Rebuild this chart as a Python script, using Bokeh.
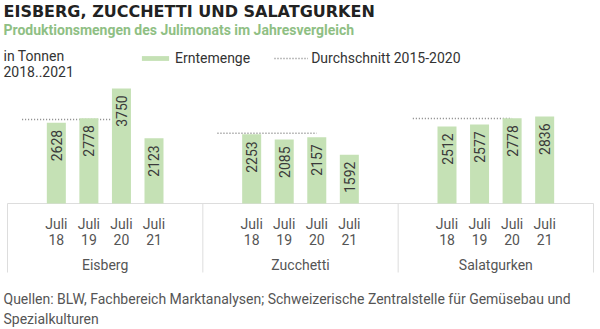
from math import pi
from bokeh.plotting import figure
from bokeh.models import Range1d, Label, Legend, LegendItem, ColumnDataSource
from bokeh.core.properties import value
from bokeh.embed import file_html
from bokeh.resources import INLINE

# ---------------- data ----------------
groups = ["Eisberg", "Zucchetti", "Salatgurken"]
months = ["Juli 18", "Juli 19", "Juli 20", "Juli 21"]
eisberg = [2628, 2778, 3750, 2123]
zucchetti = [2253, 2085, 2157, 1592]
salatgurken = [2512, 2577, 2778, 2836]
avg_2015_2020 = [2735, 2290, 2770]

series = [eisberg, zucchetti, salatgurken]

# ---------------- layout constants ----------------
W, H = 600, 329
GROUP_W = 6.0            # x units per group
BAR_W = 0.584
PX_X = 32.556            # pixels per x unit
PX_Y = 0.0307            # pixels per tonne
BASE_PX = 203            # pixel row of the baseline
LEFT_PX = 7
Y_PER_PX = 1.0 / PX_Y
SHIFT = 5                # baseline correction for text rendering

x_start = -LEFT_PX / PX_X
x_end = len(groups) * GROUP_W + (W - 593) / PX_X
y_end = BASE_PX * Y_PER_PX
y_start = -(H - BASE_PX) * Y_PER_PX

FONT = value("Roboto")

p = figure(width=W, height=H, x_range=Range1d(x_start, x_end), y_range=Range1d(y_start, y_end),
           x_axis_location=None, y_axis_location=None, toolbar_location=None,
           output_backend="svg", min_border=0, outline_line_color=None)
p.xgrid.visible = False
p.ygrid.visible = False
p.background_fill_color = "white"
p.border_fill_color = "white"

# ---------------- sources ----------------
bx, bv, blab, lab_y, tick1, tick2 = [], [], [], [], [], []
for g, vals in enumerate(series):
    for i, v in enumerate(vals):
        bx.append(g * GROUP_W + 1.5 + i)
        bv.append(v)
        blab.append(str(v))
        lab_y.append(v - 7 * Y_PER_PX)
        m, yr = months[i].split(" ")
        tick1.append(m)
        tick2.append(yr)
bars_src = ColumnDataSource(dict(x=bx, top=bv, label=blab, ly=lab_y, t1=tick1, t2=tick2,
                                 y1=[-(25 - SHIFT) * Y_PER_PX] * len(bx),
                                 y2=[-(41 - SHIFT) * Y_PER_PX] * len(bx)))

avg_src = ColumnDataSource(dict(
    x0=[g * GROUP_W + 0.45 for g in range(len(groups))],
    x1=[g * GROUP_W + 3.5 for g in range(len(groups))],
    y=avg_2015_2020))

# ---------------- frame lines ----------------
sep_x = [g * GROUP_W for g in range(len(groups) + 1)]
p.segment(x0=sep_x, x1=sep_x, y0=[0] * len(sep_x), y1=[-69 * Y_PER_PX] * len(sep_x),
          line_color="#dddddd", line_width=1)
p.segment(x0=[0], x1=[len(groups) * GROUP_W], y0=[0], y1=[0], line_color="#dddddd", line_width=1)

# ---------------- marks ----------------
avg_r = p.segment(x0="x0", x1="x1", y0="y", y1="y", source=avg_src,
                  line_color="#808080", line_width=1.5, line_dash="1 2")
bar_r = p.vbar(x="x", top="top", bottom=0, width=BAR_W, source=bars_src,
               fill_color="#c5e1b5", line_color=None)

p.text(x="x", y="ly", text="label", source=bars_src, angle=pi / 2, text_align="right",
       text_baseline="middle", text_font=FONT, text_font_size="14px", text_color="#3a3a3a")

p.text(x="x", y="y1", text="t1", source=bars_src, text_align="center", text_baseline="alphabetic",
       text_font=FONT, text_font_size="14px", text_color="#555555")
p.text(x="x", y="y2", text="t2", source=bars_src, text_align="center", text_baseline="alphabetic",
       text_font=FONT, text_font_size="14px", text_color="#555555")

grp_src = ColumnDataSource(dict(x=[g * GROUP_W + GROUP_W / 2 for g in range(len(groups))],
                                y=[-(66 - SHIFT) * Y_PER_PX] * len(groups), t=groups))
p.text(x="x", y="y", text="t", source=grp_src, text_align="center", text_baseline="alphabetic",
       text_font=FONT, text_font_size="14px", text_color="#555555")

# ---------------- header / footer ----------------
def lab(txt, x, y_px, size, color, font="Roboto", style="normal"):
    p.add_layout(Label(x=x, y=H - (y_px - SHIFT), x_units="screen", y_units="screen", text=txt,
                       text_font=font, text_font_size=size, text_color=color,
                       text_font_style=style, text_baseline="alphabetic"))

lab("EISBERG, ZUCCHETTI UND SALATGURKEN", 3, 15.5, "16px", "#222222", font="DejaVu Sans", style="bold")
lab("Produktionsmengen des Julimonats im Jahresvergleich", 3, 34, "14px", "#8fbf84", style="bold")
lab("in Tonnen", 3, 60, "14px", "#333333")
lab("2018..2021", 3, 75.5, "14px", "#333333")
lab("Quellen: BLW, Fachbereich Marktanalysen; Schweizerische Zentralstelle für Gemüsebau und", 3, 303, "14px", "#555555")
lab("Spezialkulturen", 3, 323, "14px", "#555555")

legend = Legend(items=[LegendItem(label="Erntemenge", renderers=[bar_r]),
                       LegendItem(label="Durchschnitt 2015-2020", renderers=[avg_r])],
                orientation="horizontal", location=(138, H - 66),
                glyph_width=34, glyph_height=6, label_standoff=3, spacing=24,
                padding=0, margin=0, border_line_color=None, background_fill_alpha=0,
                label_text_font="Roboto", label_text_font_size="14px", label_text_color="#333333")
p.add_layout(legend)

open("out.html", "w").write(file_html(p, INLINE))
